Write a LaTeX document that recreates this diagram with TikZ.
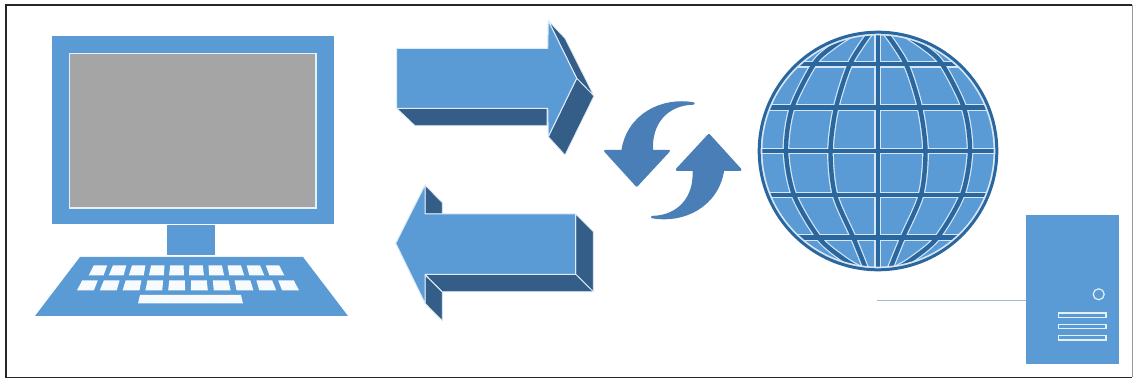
\documentclass[tikz,border=0pt]{standalone}
\usepackage{tikz}
\usetikzlibrary{positioning, calc}
\definecolor{iconblue}{HTML}{5B9BD5}
\definecolor{iconshade}{HTML}{345E87}
\definecolor{iconturn}{HTML}{4A7EB7}
\definecolor{globeline}{HTML}{2B679F}
\definecolor{screengray}{HTML}{A5A5A5}
\definecolor{lanline}{HTML}{A9B7D1}

\begin{document}
\begin{tikzpicture}[
        x=1pt, y=-1pt,
        face/.style={fill=iconblue, draw=white!80!iconblue, line width=1pt, line join=round},
        shade/.style={fill=iconshade, draw=white!80!iconblue, line width=0.8pt, line join=round},
        plain/.style={fill=iconblue},
        keycap/.style={fill=white!96!iconblue},
        slot/.style={draw=white!85!iconblue, fill=iconblue, line width=1.2pt},
        turn/.style={fill=iconturn, draw=iconturn, line width=2.4pt, line join=round}
    ]
        \useasboundingbox (0,0) rectangle (1133,379);
        \draw[black!85, line width=1.8pt] (1132,5) -- (5.8,5) -- (5.8,377.5) -- (1132,377.5);
        \draw[black!40, line width=1pt] (1132,5) -- (1132,377.5);

        % computer
        \fill[plain] (52,36) rectangle (334,224);
        \draw[fill=screengray, draw=white!85!iconblue, line width=1.2pt] (69.5,53.5) rectangle (316,208);
        \fill[plain] (167,225) rectangle (215,255);
        \fill[plain] (80,257) -- (303,257) -- (348,316) -- (35,316) -- cycle;
        \foreach \k in {-4.5,-3.5,...,4.5} {
            \fill[keycap] ({186.5+(\k-0.35)*19.1},265.3) -- ({186.5+(\k+0.35)*19.1},265.3)
                -- ({186.5+(\k+0.37)*20.1},275.5) -- ({186.5+(\k-0.37)*20.1},275.5) -- cycle;
            \fill[keycap] ({188+(\k-0.36)*21.8},280.5) -- ({188+(\k+0.36)*21.8},280.5)
                -- ({188+(\k+0.37)*22.8},290.5) -- ({188+(\k-0.37)*22.8},290.5) -- cycle;
        }
        \fill[keycap] (140,295) -- (241,295) -- (243,303.5) -- (138,303.5) -- cycle;

        % arrow to the right
        \draw[shade] (396.7,108.3) -- (415,125.7) -- (547,125.7) -- (547,108.3) -- cycle;
        \draw[shade] (548.3,20.7) -- (565,38.3) -- (594,96) -- (576.7,78.3) -- cycle;
        \draw[shade] (576.7,78.3) -- (594,96) -- (565,155) -- (548.3,136.7) -- cycle;
        \draw[face] (396.7,48.3) -- (547.7,48.3) -- (548.3,20.7) -- (576.7,78.3)
            -- (548.3,136.7) -- (547.7,108.3) -- (396.7,108.3) -- cycle;

        % arrow to the left
        \draw[shade] (425,185) -- (442.3,202.7) -- (442.3,214) -- (425,214) -- cycle;
        \draw[shade] (575.7,214) -- (593.3,231.7) -- (593.3,291.7) -- (575.7,274.3) -- cycle;
        \draw[shade] (425,274.3) -- (575.7,274.3) -- (593.3,291.7) -- (442.3,291.7) -- cycle;
        \draw[shade] (425,275) -- (442.3,292) -- (442.3,320.7) -- (425,303.3) -- cycle;
        \draw[face] (425,214) -- (575.7,214) -- (575.7,274.3) -- (425,274.3)
            -- (425,303.3) -- (395.7,243.3) -- (425,185) -- cycle;

        % turning arrows
        \foreach \r in {0,180} {
            \begin{scope}[rotate around={\r:(672.8,160.3)}]
                \draw[turn] (605.3,151) -- (622.5,151) .. controls (628,114) and (663,98) .. (693.5,103.5)
                    .. controls (667,104) and (650,123) .. (651.9,151) -- (668.7,151) -- (636.7,185.5) -- cycle;
            \end{scope}
        }

        % globe
        \fill[iconblue] (878,151) circle (118.8);
        \begin{scope}
            \clip (878,151) circle (118.8);
            \foreach \c/\w in {white!75!iconblue/6.8pt, globeline/4.4pt} {
                \begin{scope}[draw=\c, line width=\w]
                    \foreach \h in {64.3,107.7,151,195,237.7}
                        \draw (750,\h) -- (1006,\h);
                    \draw (877.7,30) -- (877.7,272);
                    \foreach \s in {-1,1} {
                        \draw plot[smooth] coordinates {({878+\s*8},33) ({878+\s*28},64) ({878+\s*42},108)
                            ({878+\s*47.5},151) ({878+\s*43},195) ({878+\s*24.5},238) ({878+\s*12},269)};
                        \draw plot[smooth] coordinates {({878+\s*25},33) ({878+\s*46},47) ({878+\s*64},64) ({878+\s*86},108)
                            ({878+\s*92},151) ({878+\s*84},195) ({878+\s*59},238) ({878+\s*33},260) ({878+\s*16},270)};
                    }
                \end{scope}
            }
            \draw[white!75!iconblue, line width=6.5pt] (878,151) circle (118.8);
        \end{scope}
        \draw[globeline, line width=3pt] (878,151) circle (118.8);

        % server
        \node[plain, inner sep=0pt, minimum width=93.6pt, minimum height=149.6pt] (server) at (1072.5,289.5) {};
        \node[circle, draw=white!85!iconblue, line width=1.2pt, inner sep=0pt, minimum size=11pt] (power) at (1098.7,294.3) {};
        \foreach \s in {313,324.3,335.7}
            \draw[slot] (1058.3,\s) rectangle (1106,\s+4.3);
        \coordinate (lanend) at (876.7,300.7);
        \draw[lanline, line width=1.3pt] (lanend) -- (lanend -| server.west);
    \end{tikzpicture}
\end{document}
